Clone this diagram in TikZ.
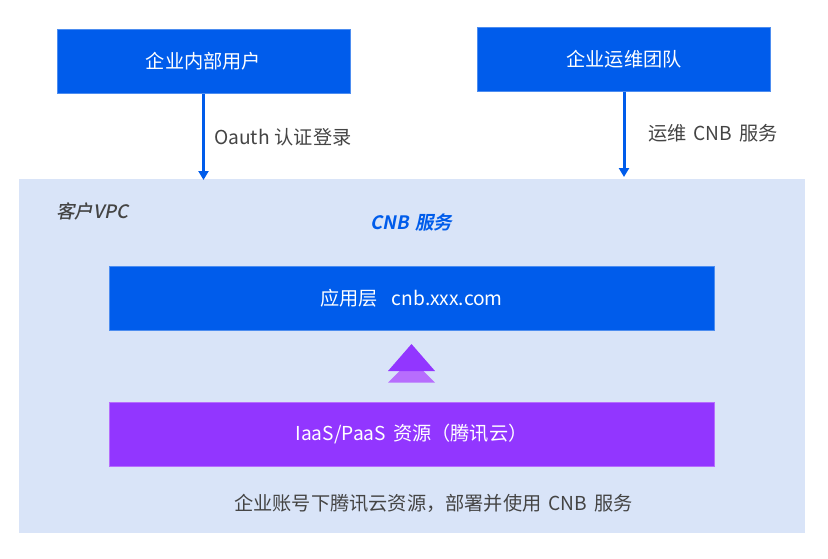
\documentclass[tikz,border=0pt]{standalone}
\usepackage{fontspec}
\setmainfont{Noto Sans CJK SC}
\newfontfamily\slantfont[FakeSlant=0.2]{Noto Sans CJK SC Medium}
\newfontfamily\slantbold[FakeSlant=0.2]{Noto Sans CJK SC Bold}
\usetikzlibrary{positioning, arrows.meta}
\definecolor{cnbblue}{HTML}{005CEB}
\definecolor{cnbedge}{HTML}{4D8DF0}
\definecolor{cnbpale}{HTML}{D9E4F8}
\definecolor{cnbpurple}{HTML}{9236FF}
\definecolor{cnblilac}{HTML}{B76DFD}
\definecolor{cnbtext}{HTML}{444444}
\newcommand{\wordgap}{\hspace{7pt}}
\tikzset{
  bluebox/.style={draw=cnbedge, line width=1pt, fill=cnbblue, text=white, font=\fontsize{19.2}{21}\selectfont, minimum width=293pt, minimum height=64pt, inner sep=0pt},
  widebox/.style={bluebox, minimum width=605pt},
  caption/.style={text=cnbtext, font=\fontsize{19.2}{21}\selectfont, inner sep=0pt},
  flow/.style={draw=cnbblue, line width=3pt, -{Triangle[length=9pt,width=10pt]}}
}
\begin{document}
\begin{tikzpicture}[x=1pt,y=-1pt]
  \useasboundingbox (0,0) rectangle (828,558);
  \node[fill=cnbpale, minimum width=786pt, minimum height=354pt, inner sep=0pt] (vpc) at (412,356) {};
  \node[bluebox] (users) at (203.5,61.5) {企业内部用户};
  \node[bluebox] (ops) at (624,59) {企业运维团队};
  \node[widebox] (app) at (411.5,298) {应用层\hspace{14pt}cnb.xxx.com};
  \node[widebox, draw=cnblilac, fill=cnbpurple] (iaas) at (411.5,434) {IaaS/PaaS\wordgap{}资源（腾讯云）};
  \coordinate (usersend) at (203.5,180);
  \coordinate (opsend) at (624,177);
  \draw[flow] (users.south) -- (usersend);
  \draw[flow] (ops.south) -- (opsend);
  \node[caption, anchor=west] (login) at (214,137) {Oauth\hspace{5pt}认证登录};
  \node[caption, anchor=west] (manage) at (648,133.5) {运维\wordgap{}CNB\wordgap{}服务};
  \node[anchor=west, inner sep=0pt, text=cnbtext, font=\fontsize{18.5}{21}\slantfont] (vpctitle) at (56,211) {客户VPC};
  \node[inner sep=0pt, text=cnbblue, font=\fontsize{18.5}{21}\slantbold] (cnbtitle) at (411.5,222.5) {CNB\hspace{6pt}服务};
  \node[caption] (note) at (433.5,503) {企业账号下腾讯云资源，部署并使用\wordgap{}CNB\wordgap{}服务};
  \fill[cnblilac] (399.5,371) -- (423.5,371) -- (435,382.5) -- (388,382.5) -- cycle;
  \fill[cnbpurple] (411.5,344) -- (435,371) -- (388,371) -- cycle;
\end{tikzpicture}
\end{document}
